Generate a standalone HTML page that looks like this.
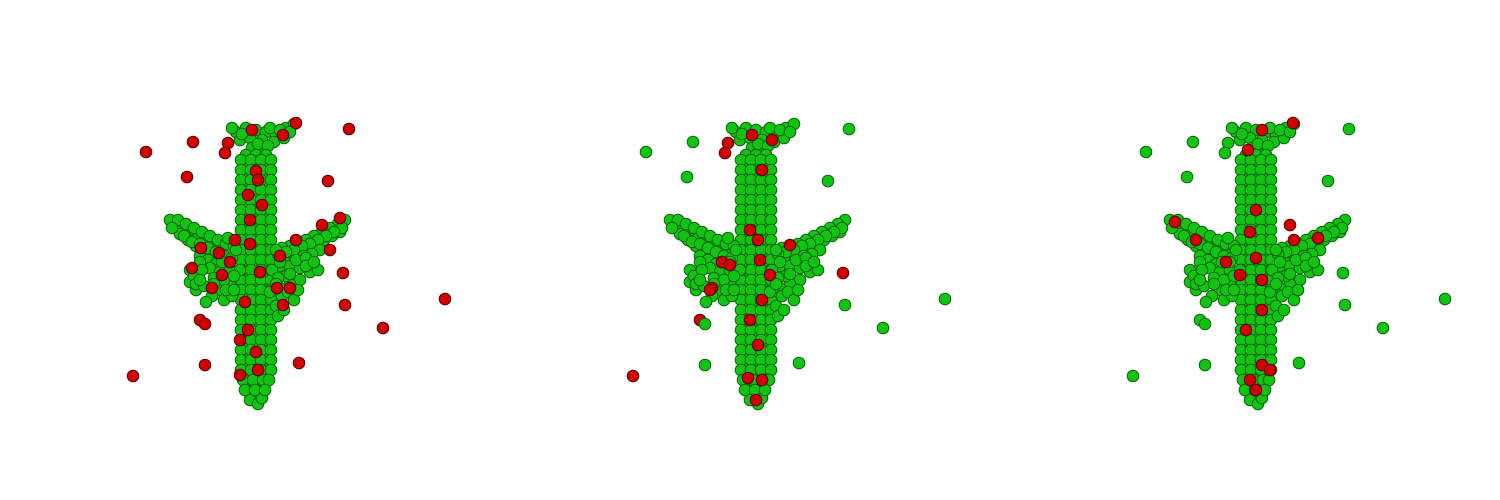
<!DOCTYPE html>
<html><head><meta charset="utf-8"><style>
html,body{margin:0;padding:0;background:#fff;}
svg{display:block;}
</style></head><body>
<svg id="chart" width="1500" height="500" viewBox="0 0 1500 500" xmlns="http://www.w3.org/2000/svg"></svg>
<script>
const panelOffsets = [0, 500, 1000];
const bodyPoints = [
[236,132],[246,128],[256,130],[266,132],[276,134],[286,128],[294,124],[240,140],[250,138],[262,140],[274,142],[284,138],[252,148],[262,150],[232,128],[242,134],[270,128],[280,130],[290,132],[258,144],[268,146],
[246,155],[256,155],[266,155],[246,165],[256,165],[266,165],[246,175],[256,175],[266,175],[246,185],[256,185],[266,185],[246,195],[256,195],[266,195],
[246,205],[256,205],[266,205],[246,215],[256,215],[266,215],[246,225],[256,225],[266,225],[246,235],[256,235],[266,235],[246,245],[256,245],[266,245],
[246,255],[256,255],[266,255],[246,265],[256,265],[266,265],[246,275],[256,275],[266,275],[246,285],[256,285],[266,285],[246,295],[256,295],[266,295],
[246,305],[256,305],[266,305],[246,315],[256,315],[266,315],[246,325],[256,325],[266,325],[246,335],[256,335],[266,335],[246,345],[256,345],[266,345],
[246,355],[256,355],[266,355],[246,365],[256,365],[266,365],[246,375],[256,375],[266,375],[248,385],[256,385],[264,385],[250,393],[260,393],
[250,400],[258,404],[262,398],
[241,160],[251,160],[261,160],[271,160],[241,170],[251,170],[261,170],[271,170],[241,180],[251,180],[261,180],[271,180],[241,190],[251,190],[261,190],[271,190],
[241,200],[251,200],[261,200],[271,200],[241,210],[251,210],[261,210],[271,210],[241,220],[251,220],[261,220],[271,220],[241,230],[251,230],[261,230],[271,230],
[241,240],[251,240],[261,240],[271,240],[241,250],[251,250],[261,250],[271,250],[241,260],[251,260],[261,260],[271,260],[241,270],[251,270],[261,270],[271,270],
[241,280],[251,280],[261,280],[271,280],[241,290],[251,290],[261,290],[271,290],[241,300],[251,300],[261,300],[271,300],[241,310],[251,310],[261,310],[271,310],
[241,320],[251,320],[261,320],[271,320],[241,330],[251,330],[261,330],[271,330],[241,340],[251,340],[261,340],[271,340],[241,350],[251,350],[261,350],[271,350],
[241,360],[251,360],[261,360],[271,360],[241,370],[251,370],[261,370],[271,370],[243,380],[253,380],[263,380],[269,380],[245,390],[255,390],[265,390],
[170,220],[176,226],[182,230],[190,234],[198,238],[206,242],[214,246],[222,250],[230,252],[178,220],[186,224],[194,228],[202,232],[210,236],[218,240],[226,244],[180,234],[188,240],[196,246],[204,250],[212,254],[220,258],
[172,228],[184,236],[192,242],[200,244],[208,248],[216,252],[224,256],[232,258],[234,246],[228,238],[200,256],[208,260],[216,264],
[345,220],[338,224],[330,228],[322,232],[314,236],[306,240],[298,244],[290,246],[282,248],[340,232],[332,236],[324,240],[316,244],[308,248],[300,252],[292,256],[284,258],
[342,228],[334,232],[326,236],[318,240],[310,244],[302,246],[294,250],[286,252],[278,254],[320,250],[312,254],[304,256],[296,262],
[190,270],[190,282],[196,290],[200,262],[210,268],[220,272],[230,270],[280,266],[290,266],[300,268],[310,272],[318,270],[300,280],[290,284],[280,288],[270,292],[230,284],[220,290],[212,296],[206,302],[224,300],[232,296],[286,276],[296,260],[306,258],[230,262],[222,262],[282,296],[276,306],[278,316],[236,250],[276,250],[240,270],[272,270],
[194,276],[202,270],[214,278],[224,280],[234,276],[278,278],[290,274],[306,266],[314,262],[280,262],[196,284],[204,286],[214,284],[226,290],[288,292],[294,300],[284,310],[200,280],[234,290],[276,284],[298,290]
];
const outlierPoints = [[146,152],[193,142],[187,177],[349,129],[328,181],[445,299],[343,273],[345,305],[383,328],[299,363],[205,365],[133,376],[228,143],[225,153],[200,320],[205,324]];
const outlierRed = [
 [true,true,true,true,true,true,true,true,true,true,true,true,true,true,true,true],
 [false,false,false,false,false,false,true,false,false,false,false,true,true,true,true,false],
 [false,false,false,false,false,false,false,false,false,false,false,false,false,false,false,false]
];
const bodyRed = [
 [[252,130],[283,135],[296,123],[256,171],[258,180],[248,195],[262,205],[250,220],[235,240],[219,253],[201,248],[192,268],[230,262],[250,244],[222,275],[260,272],[280,256],[296,240],[322,225],[340,218],[277,288],[290,288],[283,305],[245,302],[248,330],[240,340],[258,370],[240,375],[256,352],[212,288],[330,250]],
 [[252,135],[272,140],[262,170],[250,230],[258,240],[222,262],[212,288],[210,290],[260,260],[262,300],[250,320],[258,345],[248,378],[262,380],[256,400],[290,245],[270,275],[230,265]],
 [[262,130],[293,123],[248,150],[256,210],[250,232],[256,258],[226,262],[196,240],[175,222],[294,240],[318,238],[262,280],[262,310],[246,330],[262,365],[250,380],[256,390],[270,370],[290,225],[240,275]]
];
const NS='http://www.w3.org/2000/svg';
const svg=document.getElementById('chart');
function dot(g,x,y,red){
  const c=document.createElementNS(NS,'circle');
  c.setAttribute('cx',x);c.setAttribute('cy',y);c.setAttribute('r',5.8);
  c.setAttribute('fill',red?'#d00000':'#12c412');
  c.setAttribute('stroke',red?'#5a0000':'#0a640a');
  c.setAttribute('stroke-width','1');
  
  
  g.appendChild(c);
}
panelOffsets.forEach((off,i)=>{
  const g=document.createElementNS(NS,'g');
  g.setAttribute('transform','translate('+off+',0)');
  
  
  svg.appendChild(g);
  bodyPoints.forEach(p=>dot(g,p[0],p[1],false));
  bodyRed[i].forEach(p=>dot(g,p[0],p[1],true));
  outlierPoints.forEach((p,k)=>dot(g,p[0],p[1],outlierRed[i][k]));
});
</script>
</body></html>
